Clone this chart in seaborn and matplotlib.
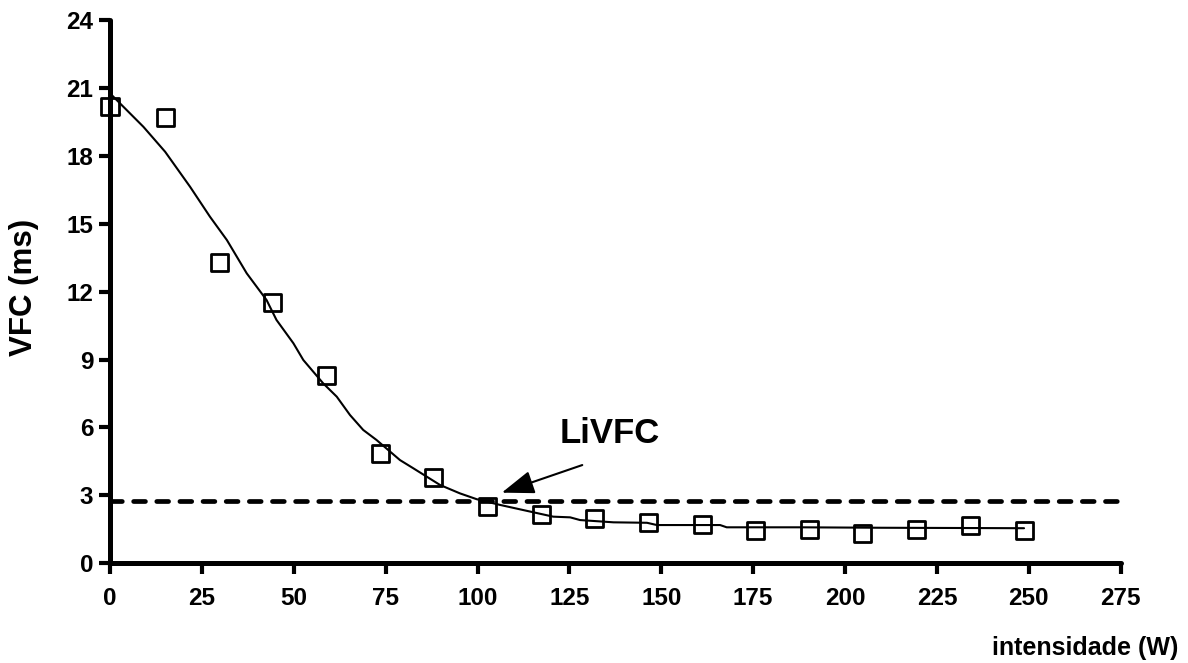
import matplotlib
matplotlib.use("Agg")
import matplotlib.pyplot as plt
import seaborn as sns
import numpy as np

# ---- data ----
obs_x = [0, 15, 29.7, 44.3, 58.8, 73.5, 88, 102.7, 117.4, 131.8, 146.5, 161.1,
         175.7, 190.3, 204.8, 219.5, 234.2, 248.7]
obs_y = [20.2, 19.7, 13.3, 11.5, 8.3, 4.85, 3.8, 2.5, 2.15, 2.0, 1.8, 1.7,
         1.45, 1.5, 1.3, 1.5, 1.65, 1.45]

fit_x = [0, 9.1, 15, 21.8, 27.2, 31.8, 37.2, 42.6, 45.3, 49.9, 52.6, 58.0, 61.7,
         65.3, 68.9, 72.5, 78.9, 82.5, 89.8, 95.2, 99.8, 106.1, 112.5, 120.6,
         125.2, 127.9, 137, 146.1, 148.8, 166, 167.8, 187.8, 210, 230, 248.7]
fit_y = [20.76, 19.28, 18.18, 16.63, 15.31, 14.28, 12.81, 11.63, 10.75, 9.72,
         8.98, 7.95, 7.36, 6.55, 5.89, 5.45, 4.56, 4.2, 3.46, 3.09, 2.83, 2.58,
         2.35, 2.06, 2.03, 1.91, 1.81, 1.79, 1.69, 1.69, 1.59, 1.59, 1.57, 1.56,
         1.55]

threshold_x = [0, 275]
threshold_y = [2.77, 2.77]

livfc_label = "LiVFC"
livfc_text_pos = (136, 5.74)
livfc_arrow_tip = (106.6, 3.12)
livfc_arrow_tail = (128.5, 4.34)

x_ticks = list(range(0, 276, 25))
y_ticks = list(range(0, 25, 3))
x_label = "intensidade (W)"
y_label = "VFC (ms)"

# ---- style ----
sns.set_style("ticks")
plt.rcParams['font.family'] = ['Liberation Sans', 'DejaVu Sans']
plt.rcParams['font.weight'] = 'bold'
plt.rcParams['text.color'] = 'black'
plt.rcParams['axes.labelcolor'] = 'black'
plt.rcParams['xtick.color'] = 'black'
plt.rcParams['ytick.color'] = 'black'

fig = plt.figure(figsize=(11.88, 6.63), dpi=100)
ax = fig.add_axes([110/1188, 1-563.3/663, (1120.7-110)/1188, (563.3-20)/663])

sns.lineplot(x=threshold_x, y=threshold_y, ax=ax, color='black', linewidth=3.4,
             dashes=False, sort=False)
dash_line = ax.lines[-1]
dash_line.set_dashes((2.5, 2.4))
dash_line.set_dash_capstyle('round')
dash_line.set_clip_on(False)

sns.lineplot(x=fit_x, y=fit_y, ax=ax, color='black', linewidth=1.5, sort=False)
ax.lines[-1].set_clip_on(False)

sns.scatterplot(x=obs_x, y=obs_y, ax=ax, marker='s', s=150, color='black',
                linewidth=2.0, zorder=5)
coll = ax.collections[-1]
coll.set_facecolor('none')
coll.set_edgecolor('black')
coll.set_clip_on(False)

ax.annotate("", xy=livfc_arrow_tip, xytext=livfc_arrow_tail,
            arrowprops=dict(arrowstyle='-|>,head_length=1.0,head_width=0.36',
                            mutation_scale=20, color='black', lw=1.5,
                            shrinkA=0, shrinkB=0))
ax.text(*livfc_text_pos, livfc_label, fontsize=25, fontweight='bold',
        ha='center', va='center', color='black')

ax.set_xlim(0, 275)
ax.set_ylim(0, 24)
ax.set_xticks(x_ticks)
ax.set_yticks(y_ticks)
ax.tick_params(axis='both', direction='out', length=8, width=3, labelsize=17.5,
               color='black', labelcolor='black', bottom=True, left=True)
ax.tick_params(axis='x', pad=9)
ax.tick_params(axis='y', pad=4)
for lab in ax.get_xticklabels() + ax.get_yticklabels():
    lab.set_fontweight('bold')

for s in ['top', 'right']:
    ax.spines[s].set_visible(False)
for s in ['left', 'bottom']:
    ax.spines[s].set_linewidth(3.6)
    ax.spines[s].set_color('black')
    ax.spines[s].set_capstyle('round')

ax.set_xlabel("")
ax.set_ylabel("")
fig.text(1178/1188, 1-648/663, x_label, fontsize=18, fontweight='bold',
         ha='right', va='center', color='black')
fig.text(24/1188, 1-287.5/663, y_label, fontsize=22.5, fontweight='bold',
         rotation=90, ha='center', va='center', color='black')

fig.savefig("out.png", dpi=100, facecolor='white')
